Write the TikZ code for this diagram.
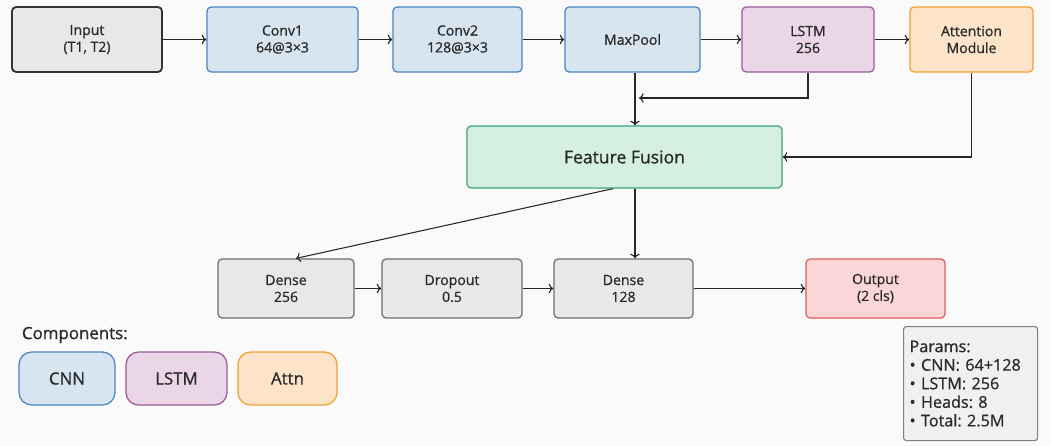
\documentclass[tikz,border=0pt]{standalone}
\usepackage{fontspec}
\setmainfont{Open Sans}[FakeBold=0.9]
\usepackage{xcolor}
\usetikzlibrary{positioning,arrows.meta,calc}

\definecolor{cnnfill}{HTML}{D7E5F1}
\definecolor{cnnline}{HTML}{4A86C2}
\definecolor{lstmfill}{HTML}{EBD6E7}
\definecolor{lstmline}{HTML}{9B5C98}
\definecolor{attfill}{HTML}{FDE4C9}
\definecolor{attline}{HTML}{F2A031}
\definecolor{fusefill}{HTML}{D5F0E1}
\definecolor{fuseline}{HTML}{3BA57B}
\definecolor{densefill}{HTML}{E8E8E8}
\definecolor{denseline}{HTML}{6E6E6E}
\definecolor{outfill}{HTML}{FBD6D6}
\definecolor{outline}{HTML}{E05E5E}
\definecolor{txt}{HTML}{2A2A2A}

\tikzset{
  blk/.style={draw, rounded corners=3pt, line width=0.9pt, align=center,
    minimum height=1.625cm, text=txt, font=\fontsize{10}{12}\selectfont},
  cnnblk/.style={blk, fill=cnnfill, draw=cnnline},
  lstmblk/.style={blk, fill=lstmfill, draw=lstmline},
  attblk/.style={blk, fill=attfill, draw=attline},
  lowblk/.style={blk, minimum height=1.475cm},
  legbox/.style={draw, rounded corners=9pt, line width=0.9pt, minimum height=1.325cm,
    text=txt, font=\fontsize{12}{14}\selectfont},
  conn/.style={->, line width=0.75pt, color=black!85}
}

\begin{document}
\frenchspacing
\begin{tikzpicture}[x=0.025cm,y=-0.025cm]
  \useasboundingbox[fill=black!2] (0,0) rectangle (1051,446);
  % top row
  \node[blk, fill=densefill, draw=black!80, line width=1.3pt, minimum width=3.75cm] (inp) at (87,39.5) {Input\\(T1, T2)};
  \node[cnnblk, minimum width=3.775cm] (conv1) at (282.5,39.5) {Conv1\\64@3×3};
  \node[cnnblk, minimum width=3.225cm] (conv2) at (457.5,39.5) {Conv2\\128@3×3};
  \node[cnnblk, minimum width=3.375cm] (mpool) at (632.5,39.5) {MaxPool};
  \node[lstmblk, minimum width=3.3cm] (lstm) at (808,39.5) {LSTM\\256};
  \node[attblk, minimum width=3.075cm] (attn) at (971.5,39.5) {Attention\\Module};
  % fusion
  \node[blk, fill=fusefill, draw=fuseline, minimum width=7.875cm, minimum height=1.55cm,
    font=\fontsize{12.5}{15}\selectfont] (fuse) at (624.5,157) {Feature Fusion};
  % bottom row
  \node[lowblk, fill=densefill, draw=denseline, minimum width=3.4cm] (dns1) at (286,288.5) {Dense\\256};
  \node[lowblk, fill=densefill, draw=denseline, minimum width=3.5cm] (drop) at (452,288.5) {Dropout\\0.5};
  \node[lowblk, fill=densefill, draw=denseline, minimum width=3.475cm] (dns2) at (623.5,288.5) {Dense\\128};
  \node[lowblk, fill=outfill, draw=outline, minimum width=3.475cm] (outp) at (875.5,288.5) {Output\\(2 cls)};

  % chains
  \foreach \a/\b in {inp/conv1,conv1/conv2,conv2/mpool,mpool/lstm,lstm/attn,dns1/drop,drop/dns2,dns2/outp}
    \draw[conn] (\a) -- (\b);

  % into fusion
  \coordinate (vx) at (635,0);
  \coordinate (lstmjoin) at (639,98);
  \draw[conn] (mpool.south -| vx) -- (fuse.north -| vx);
  \draw[conn] (lstm.south) |- (lstmjoin);
  \draw[conn] (attn.south) |- (fuse.east);
  % out of fusion
  \coordinate (fdiag) at (613,0);
  \draw[conn] (fuse.south -| fdiag) -- ($(dns1.north)+(10,0)$);
  \draw[conn] (fuse.south -| vx) -- (dns2.north -| vx);

  % legend
  \node[anchor=west, text=txt, font=\fontsize{12}{14}\selectfont] (comp) at (17,335) {Components:};
  \node[legbox, fill=cnnfill, draw=cnnline, minimum width=2.4cm] (lgcnn) at (67,378.5) {CNN};
  \node[legbox, fill=lstmfill, draw=lstmline, minimum width=2.525cm] (lglstm) at (176.5,378.5) {LSTM};
  \node[legbox, fill=attfill, draw=attline, minimum width=2.475cm] (lgatt) at (287.5,378.5) {Attn};

  % params
  \node[draw=black!50, fill=black!6, rounded corners=2pt, line width=0.8pt, anchor=north west,
    minimum width=3.35cm, minimum height=2.85cm, text=txt, align=left, inner sep=4pt,
    font=\fontsize{11.5}{13.2}\selectfont, text width=3.05cm] (par) at (903,326)
    {Params:\\• CNN: 64+128\\• LSTM: 256\\• Heads: 8\\• Total: 2.5M};
\end{tikzpicture}
\end{document}
